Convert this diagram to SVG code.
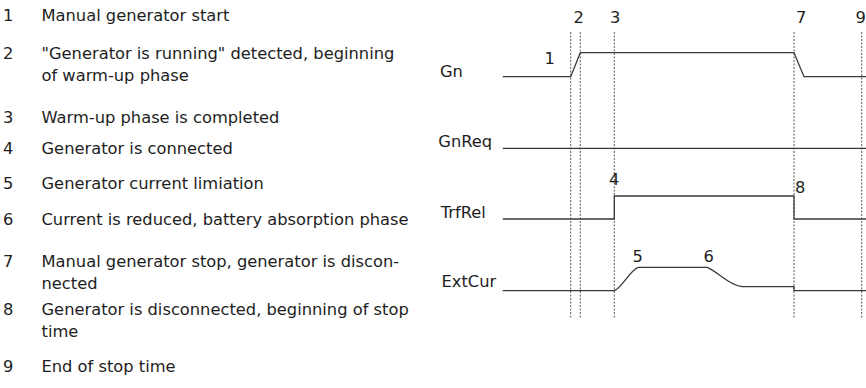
<svg xmlns="http://www.w3.org/2000/svg" width="866" height="388" viewBox="0 0 866 388">
<style>
text{font-family:"DejaVu Sans",sans-serif;font-size:16.3px;fill:#1e1e1e}
.sig{fill:none;stroke:#3a3a3a;stroke-width:1.3}
.grid{stroke:#444;stroke-width:0.9;stroke-dasharray:2,1.5}
</style>
<rect width="866" height="388" fill="#fff"/>
<g id="legend">
<text x="3" y="20.5">1</text><text x="41.5" y="20.5">Manual generator start</text>
<text x="3" y="58.5">2</text><text x="41.5" y="58.5">"Generator is running" detected, beginning</text>
<text x="41.5" y="81">of warm-up phase</text>
<text x="3" y="123">3</text><text x="41.5" y="123">Warm-up phase is completed</text>
<text x="3" y="153.5">4</text><text x="41.5" y="153.5">Generator is connected</text>
<text x="3" y="189">5</text><text x="41.5" y="189">Generator current limiation</text>
<text x="3" y="225">6</text><text x="41.5" y="225">Current is reduced, battery absorption phase</text>
<text x="3" y="266.7">7</text><text x="41.5" y="266.7">Manual generator stop, generator is discon-</text>
<text x="41.5" y="289.3">nected</text>
<text x="3" y="315">8</text><text x="41.5" y="315">Generator is disconnected, beginning of stop</text>
<text x="41.5" y="337.3">time</text>
<text x="3" y="371.7">9</text><text x="41.5" y="371.7">End of stop time</text>
</g>
<g id="grid">
<line class="grid" x1="570.7" y1="32" x2="570.7" y2="318"/>
<line class="grid" x1="580.3" y1="32" x2="580.3" y2="318"/>
<line class="grid" x1="614.3" y1="32" x2="614.3" y2="318"/>
<line class="grid" x1="794" y1="32" x2="794" y2="318"/>
<line class="grid" x1="861.7" y1="32" x2="861.7" y2="318"/>
</g>
<g id="markers">
<text x="573.5" y="23">2</text>
<text x="610" y="23">3</text>
<text x="796" y="23">7</text>
<text x="855.5" y="23">9</text>
<text x="544.5" y="64">1</text>
<text x="609" y="185">4</text>
<text x="795" y="192.5">8</text>
<text x="632.5" y="262">5</text>
<text x="703.5" y="262">6</text>
</g>
<g id="signal-labels">
<text x="440" y="77.3">Gn</text>
<text x="438.3" y="146.7">GnReq</text>
<text x="440.7" y="218.3">TrfRel</text>
<text x="441.5" y="287">ExtCur</text>
</g>
<g id="signals">
<path class="sig" d="M502.7 76.7 H570.7 L580.3 52.7 H794 L804 76.7 H866"/>
<path class="sig" d="M502.7 148.3 H866"/>
<path class="sig" d="M502.7 219 H614.3 V196 H794 V219 H866"/>
<path class="sig" d="M502.7 290.7 H614.3 C622 288 630 270 638.3 267.3 H707.3 C718 272 730 286 743.3 286.7 H794 V290.7 H866"/>
</g>
</svg>
